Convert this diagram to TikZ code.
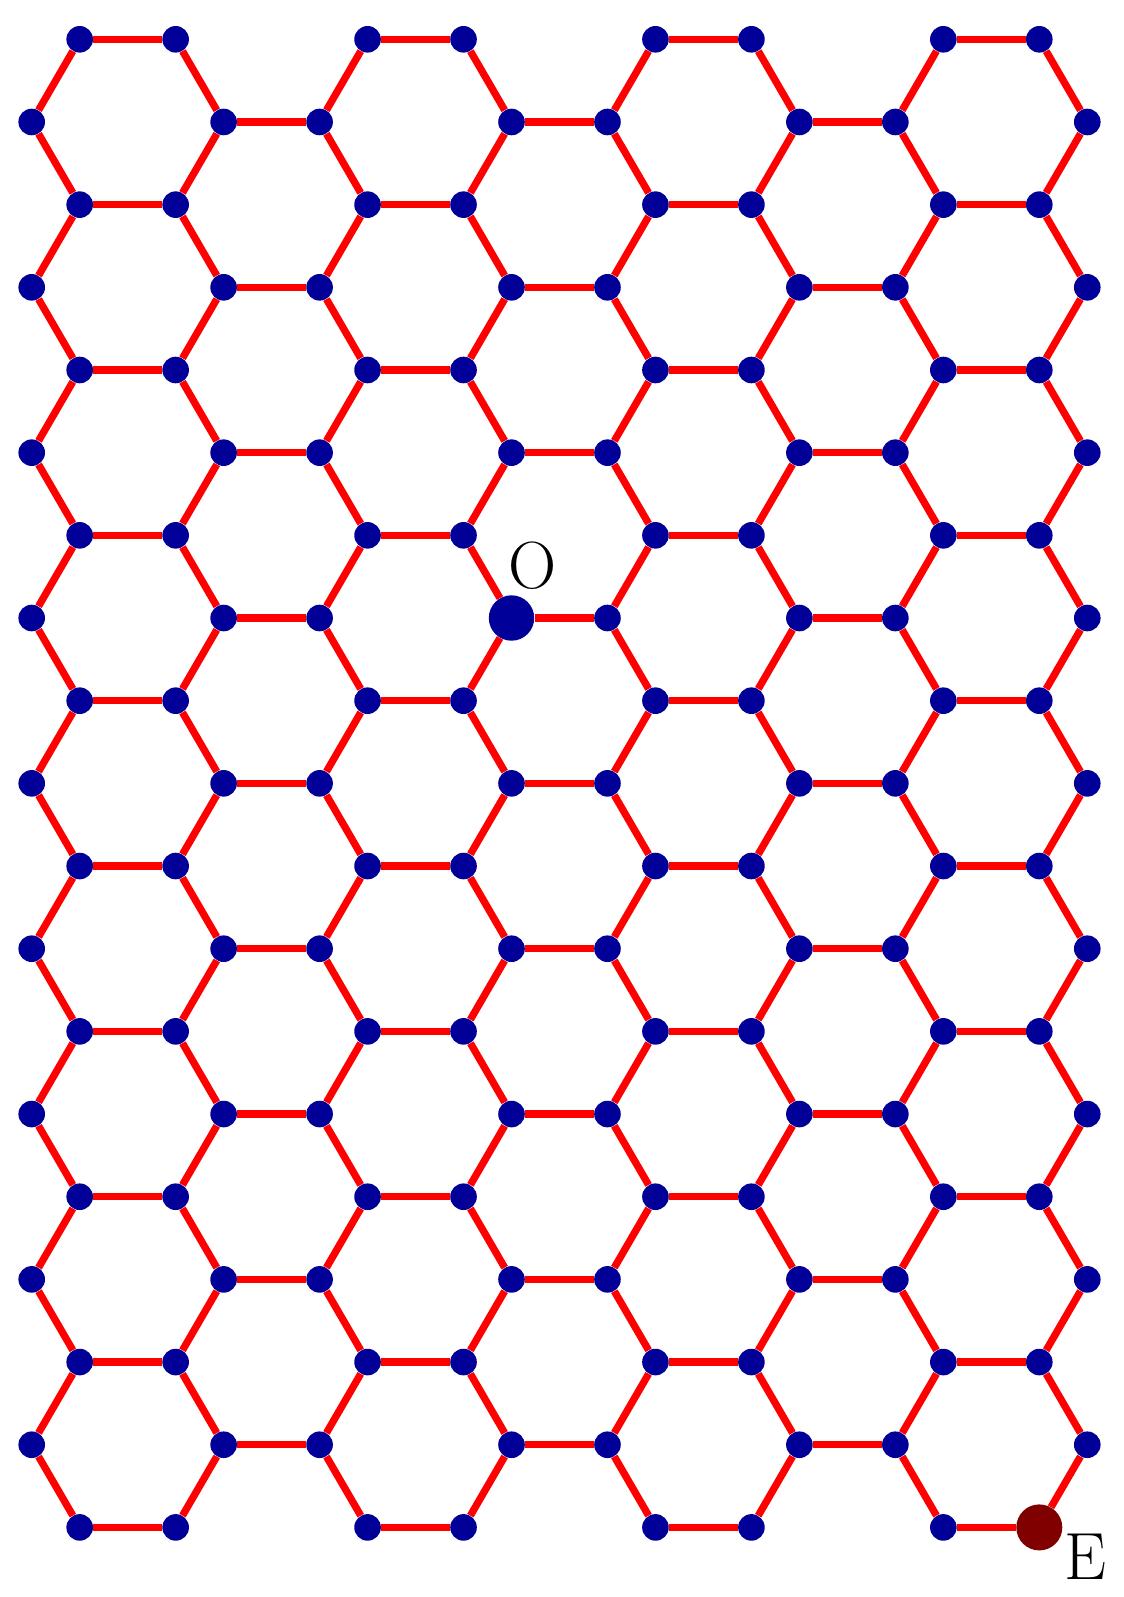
\documentclass[tikz,border=0pt]{standalone}
\usepackage{fontspec}
\usepackage{tikz}
\usetikzlibrary{calc,backgrounds}
\definecolor{sitecol}{RGB}{0,0,153}
\definecolor{endcol}{RGB}{128,0,0}

\begin{document}
\begin{tikzpicture}[x=0.9596cm, y=-1.6534cm,
    site/.style={circle, fill=sitecol, inner sep=0pt, minimum size=0.532cm},
    origin/.style={circle, fill=sitecol, inner sep=0pt, minimum size=0.908cm},
    endsite/.style={circle, fill=endcol, inner sep=0pt, minimum size=0.92cm},
    bond/.style={line width=4.15pt, red},
    sitelabel/.style={font=\fontsize{38pt}{40pt}\selectfont, text=black, inner sep=0pt}]
    \useasboundingbox (-0.6607,-0.4754) rectangle (22.765,18.842);

    % Lattice sites
    \foreach \r in {0,...,18} {
      \pgfmathtruncatemacro\odd{mod(\r,2)}
      \ifnum\odd=0 \def\cols{1,3,7,9,13,15,19,21}\else\def\cols{0,4,6,10,12,16,18,22}\fi
      \foreach \c in \cols {
        \ifnum\numexpr\r*100+\c\relax=710 \else \ifnum\numexpr\r*100+\c\relax=1821 \else
        \node[site] (v-\r-\c) at (\c,\r) {}; \fi\fi
      }
    }
    \node[origin] (v-7-10) at (10,7) {}; \node[endsite] (v-18-21) at (21,18) {};

    % Bonds
    \begin{scope}[on background layer]
    \foreach \r in {0,2,...,18} {
      \foreach \a/\b in {1/3,7/9,13/15,19/21} \draw[bond] (v-\r-\a) -- (v-\r-\b);
      \foreach \a/\b in {1/0,3/4,7/6,9/10,13/12,15/16,19/18,21/22} {
        \ifnum\r>0 \pgfmathtruncatemacro\up{\r-1} \draw[bond] (v-\r-\a) -- (v-\up-\b); \fi
        \ifnum\r<18 \pgfmathtruncatemacro\dn{\r+1} \draw[bond] (v-\r-\a) -- (v-\dn-\b); \fi
      }
    }
    \foreach \r in {1,3,...,17}
      \foreach \a/\b in {4/6,10/12,16/18} \draw[bond] (v-\r-\a) -- (v-\r-\b);
    \end{scope}

    % Labels
    \node[sitelabel] (Olabel) at ($(v-7-10)+(0.43cm,1.05cm)$) {O};
    \node[sitelabel] (Elabel) at ($(v-18-21)+(0.93cm,-0.58cm)$) {E};

\end{tikzpicture}
\end{document}
